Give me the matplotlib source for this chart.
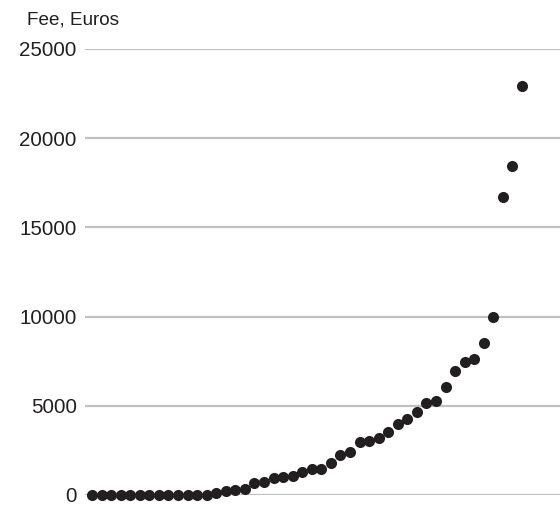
import matplotlib.pyplot as plt

plt.rcParams['font.family'] = ['Liberation Sans', 'DejaVu Sans']

fee = [0, 0, 0, 0, 0, 0, 0, 0, 0, 0, 0, 0, 0,
       100, 200, 300, 350, 650, 730, 970, 1030, 1080, 1270, 1470, 1460,
       1780, 2220, 2410, 2970, 3050, 3210, 3550, 3960, 4280, 4670, 5170,
       5290, 6070, 6950, 7470, 7650, 8540, 10000, 16700, 18450, 22950]
idx = list(range(1, len(fee) + 1))
yticks = [0, 5000, 10000, 15000, 20000, 25000]

fig = plt.figure(figsize=(5.6, 5.09), dpi=100)
ax = fig.add_axes([85 / 560, 14 / 509, 475 / 560, 446 / 509])

ax.scatter(idx, fee, s=64, color='#231f20', zorder=3, clip_on=False, linewidths=0)

ax.set_xlim(0.27, 49.98)
ax.set_ylim(0, 25000)
ax.set_yticks(yticks)
ax.set_yticklabels([str(t) for t in yticks])
ax.set_xticks([])
ax.grid(axis='y', color='#c0c0c0', linewidth=1.6)
ax.set_axisbelow(True)
for s in ax.spines.values():
    s.set_visible(False)
ax.tick_params(axis='y', length=0, pad=6, labelsize=14.8, labelcolor='#231f20')

fig.text(27 / 560, 489 / 509, 'Fee, Euros', fontsize=13.6, color='#231f20',
         ha='left', va='center')

plt.savefig('out.png', dpi=100)
